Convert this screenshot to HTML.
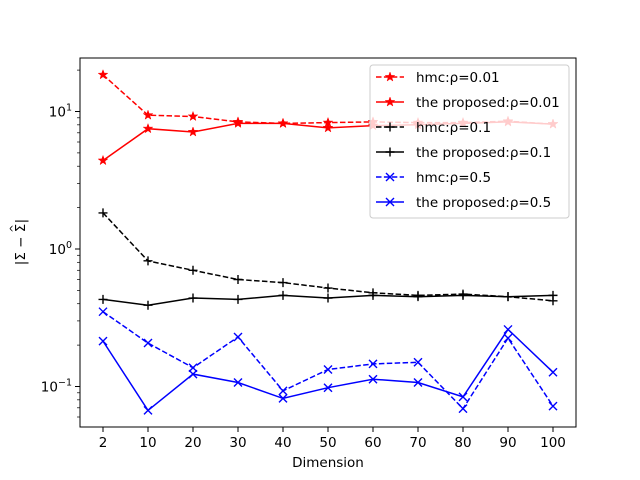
<!DOCTYPE html>
<html><head><meta charset="utf-8"><style>body{margin:0;background:#fff}svg{display:block;font-family:"DejaVu Sans","Liberation Sans",sans-serif}</style></head>
<body>
<svg id="chart" width="640" height="480"></svg>
<script>
const categories=[2,10,20,30,40,50,60,70,80,90,100];
const hmc001=[18.5,9.4,9.2,8.4,8.2,8.3,8.4,8.3,8.3,8.5,8.1];
const prop001=[4.4,7.5,7.1,8.2,8.2,7.6,7.9,8.0,8.2,8.4,8.1];
const hmc01=[1.83,0.82,0.70,0.60,0.57,0.52,0.48,0.46,0.47,0.45,0.42];
const prop01=[0.43,0.39,0.44,0.43,0.46,0.44,0.46,0.45,0.46,0.45,0.46];
const hmc05=[0.35,0.207,0.137,0.229,0.093,0.133,0.146,0.15,0.069,0.225,0.072];
const prop05=[0.214,0.067,0.123,0.107,0.082,0.098,0.113,0.107,0.084,0.26,0.127];
const seriesNames=["hmc:ρ=0.01","the proposed:ρ=0.01","hmc:ρ=0.1","the proposed:ρ=0.1","hmc:ρ=0.5","the proposed:ρ=0.5"];

const NS="http://www.w3.org/2000/svg";
const svg=document.getElementById('chart');
const L=80,R=576,T=58,B=427;
const FS=13.5;
const x=i=>103+i*45;
const y=v=>249-Math.log10(v)*137.5;
function el(t,a,p){const e=document.createElementNS(NS,t);for(const k in a)e.setAttribute(k,a[k]);(p||svg).appendChild(e);return e;}
const frame=el('rect',{x:L,y:T,width:R-L,height:B-T,fill:'none',stroke:'#000','stroke-width':1});


categories.forEach((c,i)=>{
  const tk=el('line',{x1:x(i),x2:x(i),y1:B,y2:B+5,stroke:'#000'});
  
  
  const t=el('text',{x:x(i),y:B+20,'font-size':FS,'text-anchor':'middle'});t.textContent=c;
  
  
});
[-1,0,1].forEach(e=>{
  const yy=y(Math.pow(10,e));
  const tk=el('line',{x1:L-5,x2:L,y1:yy,y2:yy,stroke:'#000'});
  
  
  const t=el('text',{x:L-8,y:yy+5,'font-size':FS,'text-anchor':'end'});
  t.innerHTML='10<tspan dy="-6" font-size="9.5">'+(e<0?'−1':e)+'</tspan>';
  
  
});
for(let e=-2;e<=1;e++)for(let m=2;m<=9;m++){const v=m*Math.pow(10,e);const yy=y(v);if(yy<T||yy>B)continue;
  const tk=el('line',{x1:L-3,x2:L,y1:yy,y2:yy,stroke:'#000','stroke-width':0.7});
  
  }
const xl=el('text',{x:(L+R)/2,y:467,'font-size':FS,'text-anchor':'middle'});xl.textContent='Dimension';


const yl=el('text',{x:0,y:0,'font-size':FS,'text-anchor':'middle',transform:'translate(25,242) rotate(-90)'});
yl.innerHTML='|Σ − Σ<tspan dx="-9" dy="-8" font-size="10">^</tspan><tspan dy="8" dx="1">|</tspan>';



function marker(type,cx,cy,col,g){
  if(type==='star'){let p=[];for(let k=0;k<10;k++){const r=k%2?2:5,a=-Math.PI/2+k*Math.PI/5;p.push((cx+r*Math.cos(a)).toFixed(1)+','+(cy+r*Math.sin(a)).toFixed(1));}
    return el('polygon',{points:p.join(' '),fill:col,stroke:col,'stroke-width':0.5},g);}
  if(type==='plus')return el('path',{d:`M${cx-4.5},${cy}H${cx+4.5}M${cx},${cy-4.5}V${cy+4.5}`,stroke:col,'stroke-width':1.4},g);
  return el('path',{d:`M${cx-4},${cy-4}L${cx+4},${cy+4}M${cx-4},${cy+4}L${cx+4},${cy-4}`,stroke:col,'stroke-width':1.4},g);
}
const series=[[hmc001,'red','5.5,2.4','star'],[prop001,'red','','star'],[hmc01,'black','5.5,2.4','plus'],[prop01,'black','','plus'],[hmc05,'blue','5.5,2.4','x'],[prop05,'blue','','x']];
series.forEach((s,si)=>{
  const g=el('g',{});
  
  
  const d=s[0].map((v,i)=>(i?'L':'M')+x(i)+','+y(v).toFixed(1)).join('');
  const ln=el('path',{d:d,fill:'none',stroke:s[1],'stroke-width':1.5,'stroke-dasharray':s[2]},g);
  
  
  s[0].forEach((v,i)=>{const m=marker(s[3],x(i),y(v),s[1],g);
    
    });
});
const lg=el('g',{});


el('rect',{x:370,y:65,width:199,height:153,rx:3,fill:'#fff','fill-opacity':0.8,stroke:'#ccc'},lg);
series.forEach((s,si)=>{
  const yy=77+si*25;
  const e=el('g',{},lg);
  
  
  el('line',{x1:376,x2:404,y1:yy,y2:yy,stroke:s[1],'stroke-width':1.5,'stroke-dasharray':s[2]},e);
  marker(s[3],390,yy,s[1],e);
  const t=el('text',{x:416,y:yy+5,'font-size':FS},e);t.textContent=seriesNames[si];
});
</script>
</body></html>
